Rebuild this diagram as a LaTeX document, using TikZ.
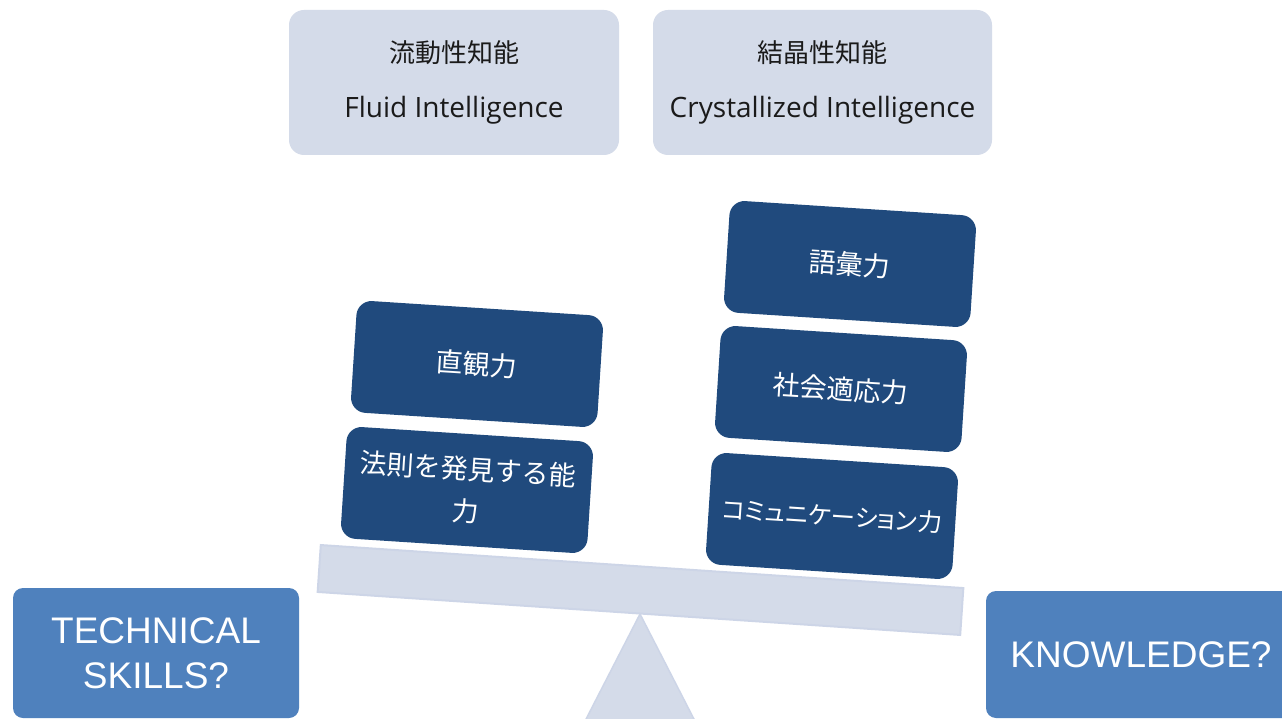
\documentclass[tikz,border=0pt]{standalone}
\usepackage{fontspec}
\newfontfamily\jp{Noto Sans CJK JP}
\newfontfamily\jpp[RawFeature=+palt]{Noto Sans CJK JP}
\newfontfamily\lat{Open Sans}
\newfontfamily\arial{Liberation Sans}
\definecolor{lav}{HTML}{D4DBE9}
\definecolor{lavline}{HTML}{CDD5E7}
\definecolor{dark}{HTML}{204A7D}
\definecolor{mid}{HTML}{4F81BD}
\definecolor{ink}{HTML}{1A1A1A}
\tikzset{
  topbox/.style={fill=lav, rounded corners=15pt, inner sep=0pt, align=center, text=ink,
    minimum height=145pt, font=\fontsize{26}{55}\selectfont},
  darkbox/.style={fill=dark, rounded corners=15pt, inner sep=0pt, align=center, text=white,
    minimum width=247pt, minimum height=112pt, rotate=-3.7, font=\jp\fontsize{27}{42}\selectfont},
  midbox/.style={fill=mid, rounded corners=10pt, inner sep=0pt, align=center, text=white,
    font=\arial\fontsize{37}{45}\selectfont},
  barbox/.style={fill=lav, draw=lavline, line width=2pt, inner sep=0pt,
    minimum width=644pt, minimum height=47pt, rotate=-3.83}
}
\begin{document}
\begin{tikzpicture}[x=1pt,y=-1pt]
\useasboundingbox (0,0) rectangle (1282,719);
\fill[white] (0,0) rectangle (1282,719);
\begin{scope}
\clip (0,0) rectangle (1282,719);
% top boxes
\node[topbox, minimum width=330pt] (fluid) at (454,82.5)
  {{\jp 流動性知能}\\{\lat\fontsize{28}{55}\selectfont Fluid Intelligence}};
\node[topbox, minimum width=339pt] (cryst) at (822.5,82.5)
  {{\jp 結晶性知能}\\{\lat\fontsize{28}{55}\selectfont Crystallized Intelligence}};
% fulcrum
\coordinate (apex) at (640,614);
\fill[lav] (apex) -- (583,725) -- (697,725) -- cycle;
\draw[lavline, line width=1.5pt] (583,725) -- (apex) -- (697,725);
% bar
\node[barbox] (bar) at (640.5,590) {};
% left stack
\node[darkbox] (chokkan) at (477,364) {直観力};
\node[darkbox] (hosoku) at (467,490) {法則を発見する能\\力};
% right stack
\node[darkbox] (goi) at (850,264) {語彙力};
\node[darkbox] (shakai) at (841,389) {社会適応力};
\node[darkbox, font=\jpp\fontsize{24.5}{42}\selectfont] (comm) at (832,516) {コミュニケーション力};
% side boxes
\node[midbox, minimum width=286pt, minimum height=130pt] (tech) at (156,653) {TECHNICAL\\SKILLS?};
\node[midbox, minimum width=310pt, minimum height=127pt] (know) at (1141,654.5) {KNOWLEDGE?};
\end{scope}
\end{tikzpicture}
\end{document}
